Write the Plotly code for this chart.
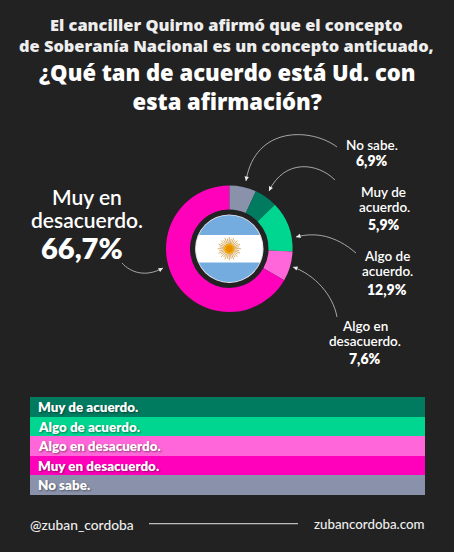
import numpy as np
import plotly.graph_objects as go

W, H = 454, 552
BG = "#222222"
FONT = "Lato"
TITLE_FONT = "Open Sans"

# Data
categories = ["No sabe.", "Muy de acuerdo.", "Algo de acuerdo.", "Algo en desacuerdo.", "Muy en desacuerdo."]
values = [6.9, 5.9, 12.9, 7.6, 66.7]
slice_colors = ["#8A92AB", "#007B60", "#00D68F", "#FF66D9", "#FF00BB"]
value_labels = ["6,9%", "5,9%", "12,9%", "7,6%", "66,7%"]
legend_order = ["Muy de acuerdo.", "Algo de acuerdo.", "Algo en desacuerdo.", "Muy en desacuerdo.", "No sabe."]

title_small = ["El canciller Quirno afirmó que el concepto", "de Soberanía Nacional es un concepto anticuado,"]
title_big = ["¿Qué tan de acuerdo está Ud. con", "esta afirmación?"]


def px(x):
    return x / W


def py(y):
    return 1 - y / H


def path_px(points, close=True):
    s = "M" + " L".join(f"{px(x):.5f},{py(y):.5f}" for x, y in points)
    return s + (" Z" if close else "")


CX, CY, R = 229.3, 248.7, 63.3
shapes, annotations = [], []


def text(x, y, t, size, color="#FFFFFF", weight=700, anchor="center", shadow=None, family=FONT):
    font = dict(family=family, size=size, color=color, weight=weight)
    if shadow:
        font["shadow"] = shadow
    annotations.append(dict(x=px(x), y=py(y), xref="paper", yref="paper", text=t, showarrow=False,
                            xanchor=anchor, yanchor="middle", font=font))


def circle(r, fill):
    shapes.append(dict(type="circle", xref="paper", yref="paper", x0=px(CX - r), x1=px(CX + r),
                       y0=py(CY + r), y1=py(CY - r), fillcolor=fill, line=dict(width=0), layer="above"))


# Flag in the hole
circle(34.2, "#E8E8EE")
circle(33.4, "#74ACDF")
half = 13.8
a0 = np.arcsin(half / 33.4)
th = np.concatenate([np.linspace(-a0, a0, 20), np.linspace(np.pi - a0, np.pi + a0, 20)])
shapes.append(dict(type="path", xref="paper", yref="paper", layer="above", fillcolor="#FFFFFF", line=dict(width=0),
                   path=path_px([(CX + 33.4 * np.cos(t), CY + 33.4 * np.sin(t)) for t in th])))
# Sun
rays = []
for i in range(32):
    t = 2 * np.pi * i / 32
    r1 = 11.6 if i % 2 == 0 else 10.2
    rays.append("M%.5f,%.5f L%.5f,%.5f" % (px(CX + 4 * np.cos(t)), py(CY + 4 * np.sin(t)),
                                           px(CX + r1 * np.cos(t)), py(CY + r1 * np.sin(t))))
shapes.append(dict(type="path", xref="paper", yref="paper", layer="above", path=" ".join(rays),
                   line=dict(color="#D19A45", width=0.8)))
circle(5.0, "#F6A800")
circle(3.2, "#E89000")

# Curved arrows
arrows = [
    ((337, 147), (312, 128), (255, 125), (246, 181)),
    ((335, 180), (318, 163), (285, 158), (269, 191)),
    ((356, 253), (335, 235), (315, 232), (296, 237)),
    ((337, 317), (333, 295), (315, 275), (293, 267)),
    ((122, 263), (130, 272), (145, 278), (163, 268)),
]
for p0, c1, c2, p1 in arrows:
    d = f"M{px(p0[0]):.5f},{py(p0[1]):.5f} C{px(c1[0]):.5f},{py(c1[1]):.5f} {px(c2[0]):.5f},{py(c2[1]):.5f} {px(p1[0]):.5f},{py(p1[1]):.5f}"
    shapes.append(dict(type="path", xref="paper", yref="paper", layer="above", path=d,
                       line=dict(color="#C8C8C8", width=0.8)))
    v = np.array(p1, float) - np.array(c2, float)
    v /= np.linalg.norm(v)
    n = np.array([-v[1], v[0]])
    tip = np.array(p1, float)
    shapes.append(dict(type="path", xref="paper", yref="paper", layer="above", fillcolor="#EDEDED", line=dict(width=0),
                       path=path_px([tip, tip - 4.5 * v + 2.2 * n, tip - 4.5 * v - 2.2 * n])))

# Titles
for y, t in zip([25, 45], title_small):
    text(226, y, t, 16.4, "#EEEEEE", 800, family=TITLE_FONT)
text(227, 86.5, "<br>".join(title_big), 22, "#FFFFFF", 800, family=TITLE_FONT)

# Slice labels
LS = 13.5
text(372, 145, "No sabe.", LS, weight=600)
text(372, 160.5, value_labels[0], 14, weight=800)
text(383, 191.5, "Muy de", LS, weight=600)
text(384, 206.5, "acuerdo.", LS, weight=600)
text(384, 224, value_labels[1], 14, weight=800)
text(387, 256, "Algo de", LS, weight=600)
text(387, 271, "acuerdo.", LS, weight=600)
text(387, 289, value_labels[2], 14, weight=800)
text(365, 326, "Algo en", LS, weight=600)
text(365, 341, "desacuerdo.", LS, weight=600)
text(365, 358, value_labels[3], 14, weight=800)
text(87, 197, "Muy en", 21, weight=600)
text(87, 219, "desacuerdo.", 21, weight=600)
text(82, 247, value_labels[4], 29, weight=800)

# Legend bands
color_of = dict(zip(categories, slice_colors))
edges = [397, 417, 436, 456, 475, 495]
for i, name in enumerate(legend_order):
    shapes.append(dict(type="rect", xref="paper", yref="paper", layer="below", x0=px(30), x1=px(425),
                       y0=py(edges[i + 1]), y1=py(edges[i]), fillcolor=color_of[name], line=dict(width=0)))
    text(36, (edges[i] + edges[i + 1]) / 2, name, 13.4, weight=800, anchor="left",
         shadow="1px 1px 2px rgba(0,0,0,0.45)")

# Footer
text(28, 524, "@zuban_cordoba", 13.8, "#EEEEEE", 500, anchor="left")
text(427, 524, "zubancordoba.com", 13.3, "#EEEEEE", 500, anchor="right")
shapes.append(dict(type="line", xref="paper", yref="paper", layer="below", x0=px(149), x1=px(298),
                   y0=py(523.7), y1=py(523.7), line=dict(color="#BDBDBD", width=1.2)))

fig = go.Figure(go.Pie(
    labels=categories, values=values, sort=False, direction="clockwise", rotation=0,
    hole=39.3 / R, marker=dict(colors=slice_colors, line=dict(width=0)), textinfo="none", showlegend=False,
    domain=dict(x=[px(CX - R), px(CX + R)], y=[py(CY + R), py(CY - R)]),
))
fig.update_layout(width=W, height=H, margin=dict(l=0, r=0, t=0, b=0), paper_bgcolor=BG, plot_bgcolor=BG,
                  showlegend=False, shapes=shapes, annotations=annotations, font=dict(family=FONT))
fig.write_html("out.html", config=dict(displayModeBar=False),
               post_script="document.body.style.margin='0';document.body.style.overflow='hidden';document.body.style.background='#222222';")
